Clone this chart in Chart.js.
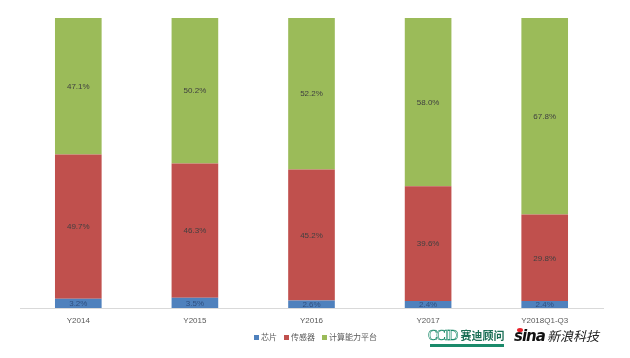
<!DOCTYPE html>
<html><head><meta charset="utf-8">
<script src="https://cdn.jsdelivr.net/npm/chart.js@4/dist/chart.umd.min.js"></script>
<style>
html,body{margin:0;padding:0;background:#fff;}
#wrap{position:relative;width:630px;height:358px;}
#c{position:absolute;left:0;top:0;}
.legend{position:absolute;top:331px;left:254px;font:8px "Noto Sans CJK SC",sans-serif;color:#595959;white-space:nowrap;}
.legend span.box{display:inline-block;width:5px;height:5px;margin-right:2px;vertical-align:middle;}
.legend span.item{margin-right:7px;}
.ccid{position:absolute;left:428px;top:327px;white-space:nowrap;line-height:16px;}
.ccid .en{font:14px "Liberation Serif",serif;color:#fff;-webkit-text-stroke:0.6px #1a8a6a;letter-spacing:-1px;}
.ccid .cn{font:bold 11px "Noto Sans CJK SC",serif;color:#1a6e55;margin-left:3px;}
.ccid .bar{position:absolute;left:2px;top:17px;width:74px;height:3px;background:#1a8a6a;}
.sina{position:absolute;left:514px;top:326px;white-space:nowrap;line-height:18px;}
.sina .en{font:italic bold 15px "DejaVu Sans",sans-serif;color:#111;letter-spacing:-1px;}
.sina .cn{font:italic 13px "Noto Sans CJK SC",sans-serif;color:#222;margin-left:2px;}
.sina .eye{position:absolute;left:3px;top:2px;width:6px;height:4px;border-radius:50%;background:#e8212a;}
</style></head>
<body><div id="wrap"><canvas id="c" width="630" height="358"></canvas>
<div class="legend"><span class="item"><span class="box" style="background:#4F81BD"></span>芯片</span><span class="item"><span class="box" style="background:#C0504D"></span>传感器</span><span class="item"><span class="box" style="background:#9BBB59"></span>计算能力平台</span></div>
<div class="ccid"><span class="en">CCID</span><span class="cn">赛迪顾问</span><div class="bar"></div></div>
<div class="sina"><div class="eye"></div><span class="en">sina</span><span class="cn">新浪科技</span></div>
</div>
<script>
const categories = ["Y2014", "Y2015", "Y2016", "Y2017", "Y2018Q1-Q3"];
const seriesNames = ["芯片", "传感器", "计算能力平台"];
const chip = [3.2, 3.5, 2.6, 2.4, 2.4];
const sensor = [49.7, 46.3, 45.2, 39.6, 29.8];
const platform = [47.1, 50.2, 52.2, 58.0, 67.8];
const colors = ["#4F81BD", "#C0504D", "#9BBB59"];

const labelPlugin = {
  id: 'segLabels',
  afterDatasetsDraw(chart) {
    const ctx = chart.ctx;
    ctx.save();
    ctx.font = '8px "Liberation Sans", Arial, sans-serif';
    ctx.textAlign = 'center';
    ctx.textBaseline = 'middle';
    chart.data.datasets.forEach((ds, i) => {
      const meta = chart.getDatasetMeta(i);
      meta.data.forEach((bar, j) => {
        const y = (bar.y + bar.base) / 2;
        ctx.fillStyle = i === 0 ? '#2f4f7f' : '#404040';
        ctx.fillText(ds.data[j].toFixed(1) + '%', bar.x, y + 0.5);
      });
    });
    ctx.restore();
  }
};

new Chart(document.getElementById('c'), {
  type: 'bar',
  data: {
    labels: categories,
    datasets: [
      { label: seriesNames[0], data: chip, backgroundColor: colors[0] },
      { label: seriesNames[1], data: sensor, backgroundColor: colors[1] },
      { label: seriesNames[2], data: platform, backgroundColor: colors[2] }
    ]
  },
  options: {
    responsive: false,
    animation: false,
    layout: { padding: { left: 20, right: 27, top: 18, bottom: 30 } },
    datasets: { bar: { barPercentage: 0.4, categoryPercentage: 1.0 } },
    plugins: { legend: { display: false }, tooltip: { enabled: false } },
    scales: {
      x: {
        stacked: true,
        grid: { display: false },
        border: { color: '#d9d9d9' },
        ticks: { color: '#595959', font: { size: 8, family: '"Liberation Sans", Arial, sans-serif' }, padding: 0, maxRotation: 0 },
        afterFit(s) { s.height = 20; }
      },
      y: { stacked: true, display: false, min: 0, max: 100 }
    }
  },
  plugins: [labelPlugin]
});
</script></body></html>
